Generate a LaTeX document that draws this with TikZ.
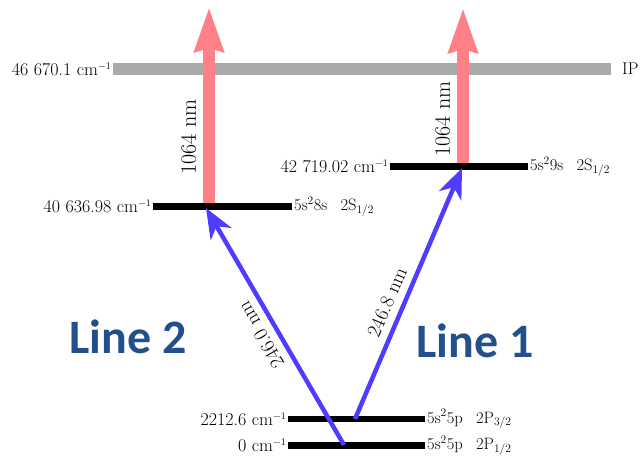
\documentclass[tikz,border=0pt]{standalone}
\usepackage{fontspec}
\newfontfamily\linefont{Carlito}
\usetikzlibrary{arrows.meta}
\definecolor{ipgray}{RGB}{170,170,170}
\definecolor{laserred}{RGB}{255,128,135}
\definecolor{laserblue}{RGB}{80,60,255}
\definecolor{linetitle}{RGB}{35,80,140}
\newcommand{\invcm}{cm\raisebox{0.75ex}{\fontsize{10}{10}\selectfont −1}}
\begin{document}
\begin{tikzpicture}[x=1pt,y=-1pt,
  level/.style={line width=6.5pt, draw=black},
  iplevel/.style={line width=12pt, draw=ipgray},
  energy/.style={font=\fontsize{18}{21}\selectfont, inner sep=2pt, anchor=east},
  term/.style={font=\fontsize{16.5}{19}\selectfont, inner sep=2pt, anchor=west},
  ionize/.style={line width=12pt, draw=laserred, -{Stealth[length=44pt,width=28pt,inset=3pt]}},
  excite/.style={line width=4.5pt, draw=laserblue, -{Stealth[length=30pt,width=24pt,inset=9pt]}},
  wavel/.style={font=\fontsize{20}{24}\selectfont, sloped, allow upside down, above=4pt},
  ionwl/.style={font=\fontsize{22}{26}\selectfont, sloped, allow upside down, above=3.5pt},
  linetag/.style={font=\linefont\bfseries\fontsize{48}{56}\selectfont, text=linetitle, inner sep=0pt, anchor=base west}
]
\useasboundingbox (0,0) rectangle (642,461);

% level end points
\coordinate (ipL) at (113,69);   \coordinate (ipR) at (611,69);
\coordinate (s9L) at (390,166.5); \coordinate (s9R) at (528,166.5);
\coordinate (s8L) at (153,206.5); \coordinate (s8R) at (292,206.5);
\coordinate (p3L) at (288,419);   \coordinate (p3R) at (425,419);
\coordinate (p1L) at (288,445.5); \coordinate (p1R) at (425,445.5);

% laser beam end points
\coordinate (r8) at (209,206.5);  \coordinate (r8top) at (209,7);
\coordinate (r9) at (463,166.5);  \coordinate (r9top) at (463,8);
\coordinate (b2from) at (344,445); \coordinate (b2to) at (206,208);
\coordinate (b1from) at (355,419); \coordinate (b1to) at (462,168);

% ionization potential
\draw[iplevel] (ipL) -- (ipR);

% 1064 nm ionizing steps
\draw[ionize] (r8) -- node[ionwl, pos=0.35] (wl8) {1064 nm} (r8top);
\draw[ionize] (r9) -- node[ionwl, pos=0.30] (wl9) {1064 nm} (r9top);

% bound levels
\draw[level] (s9L) -- (s9R);
\draw[level] (s8L) -- (s8R);
\draw[level] (p3L) -- (p3R);
\draw[level] (p1L) -- (p1R);

% first excitation steps
\draw[excite] (b2from) -- node[wavel, pos=0.50] (wl2) {246.0 nm} (b2to);
\draw[excite] (b1from) -- node[wavel, pos=0.44] (wl1) {246.8 nm} (b1to);

% energies
\node[energy] (eip) at (ipL) {46 670.1 \invcm};
\node[energy] (e9) at (s9L) {42 719.02 \invcm};
\node[energy] (e8) at (s8L) {40 636.98 \invcm};
\node[energy] (e3) at (p3L) {2212.6 \invcm};
\node[energy] (e1) at (p1L) {0 \invcm};

% configurations and terms
\node[font=\fontsize{17}{20}\selectfont, inner sep=0pt, anchor=west] (tip) at ([xshift=11pt]ipR) {IP};
\node[term] (t9) at (s9R) {5s\textsuperscript{2}9s\hspace{0.8em}2S\textsubscript{1/2}};
\node[term] (t8) at (s8R) {5s\textsuperscript{2}8s\hspace{0.8em}2S\textsubscript{1/2}};
\node[term] (t3) at (p3R) {5s\textsuperscript{2}5p\hspace{0.8em}2P\textsubscript{3/2}};
\node[term] (t1) at (p1R) {5s\textsuperscript{2}5p\hspace{0.8em}2P\textsubscript{1/2}};

% line names
\node[linetag] (line2) at (69,353) {Line 2};
\node[linetag] (line1) at (416,357) {Line 1};
\end{tikzpicture}
\end{document}
